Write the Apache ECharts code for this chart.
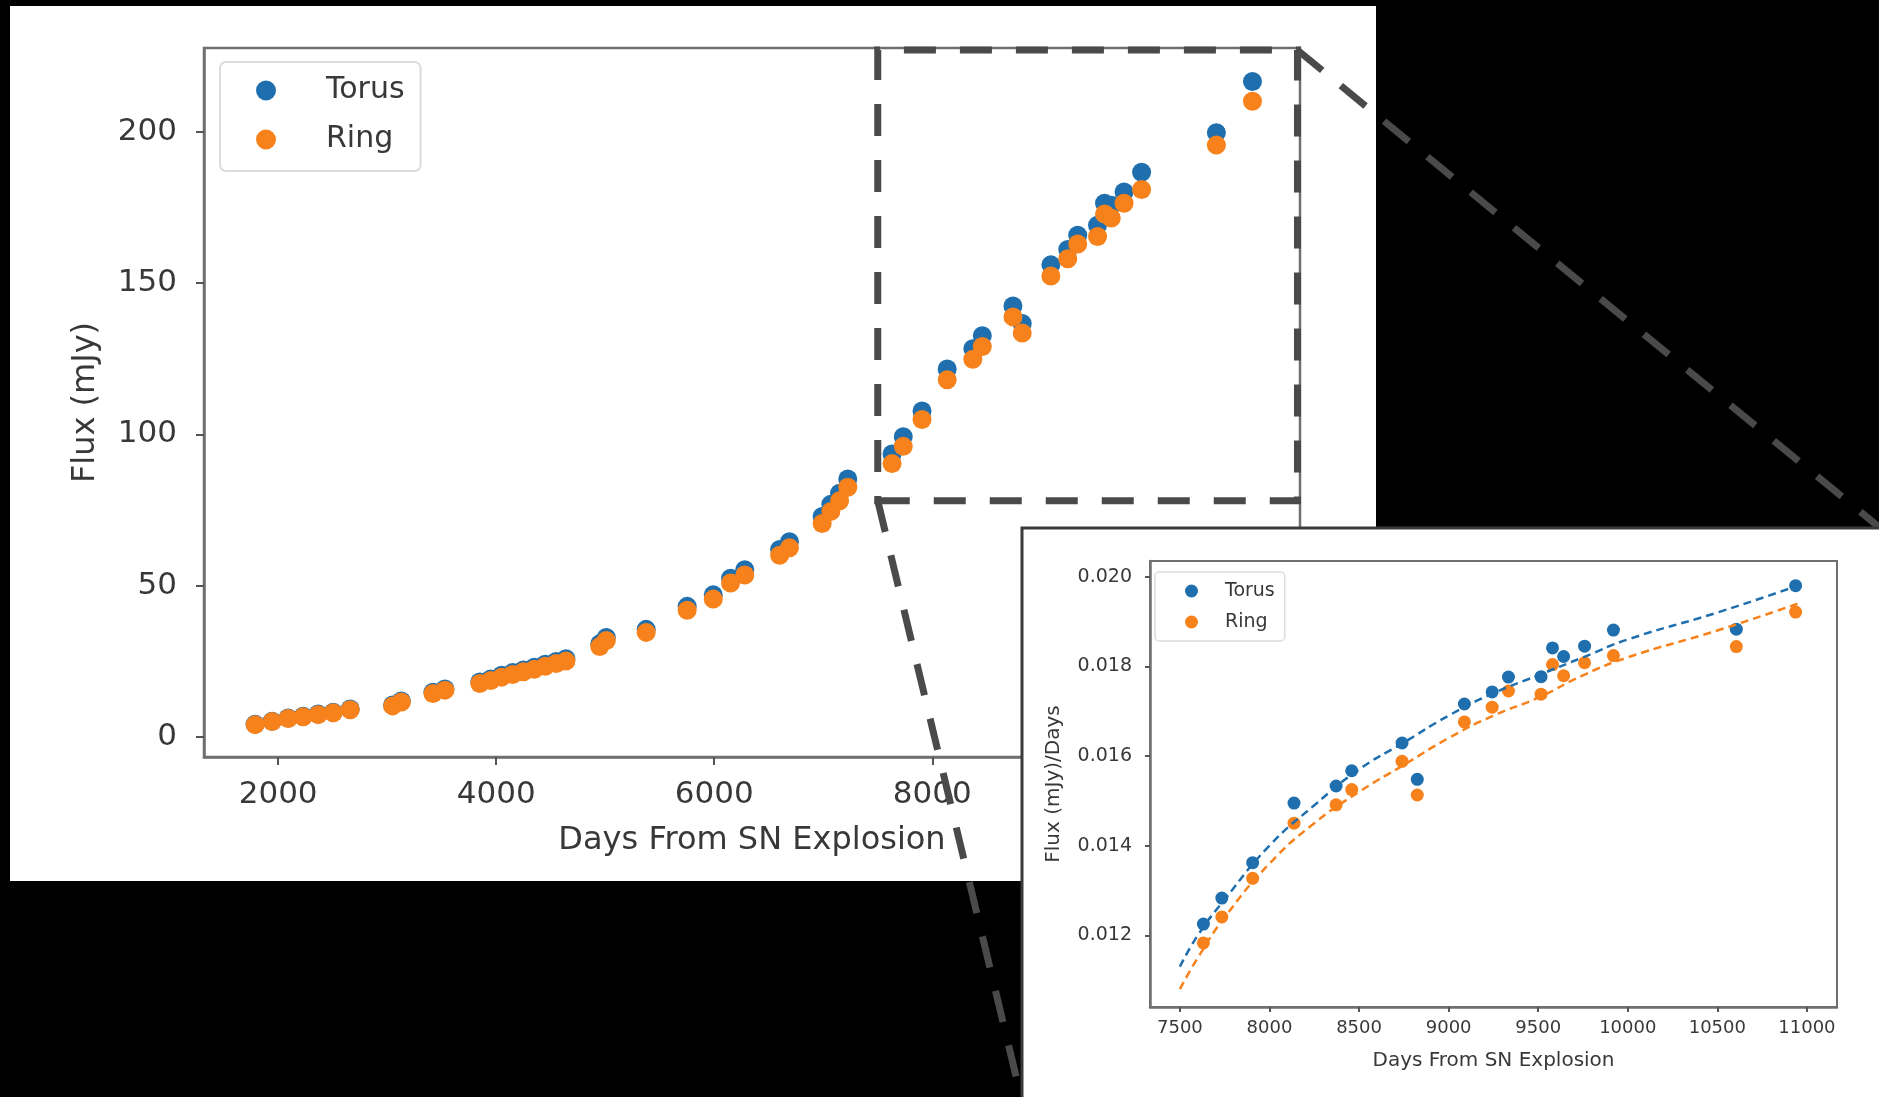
<!DOCTYPE html>
<html>
<head>
<meta charset="utf-8">
<title>Flux vs Days From SN Explosion</title>
<script src="https://cdn.jsdelivr.net/npm/echarts/dist/echarts.min.js"></script>
<style>
    html, body { margin: 0; padding: 0; background: #000; }
    #chart { width: 1879px; height: 1097px; }
</style>
</head>
<body>
<div id="chart"></div>
<script>
// main panel: flux against days
let days = [1789, 1945, 2092, 2229, 2367, 2505, 2661, 3050, 3130, 3420, 3530,
    3850, 3950, 4050, 4150, 4250, 4350, 4450, 4550, 4640, 4950, 5010, 5376,
    5752, 5991, 6150, 6280, 6600, 6690, 6990, 7070, 7150, 7225,
    7631, 7734, 7906, 8137, 8372, 8459, 8740, 8825, 9088, 9243, 9334, 9516,
    9580, 9642, 9759, 9920, 10606, 10937];
let torusFlux = [4.1, 5.1, 6.2, 6.8, 7.5, 8.1, 9.2, 10.5, 11.8, 14.7, 15.8,
    18.1, 19.1, 20.3, 21.2, 22.1, 23.0, 24.0, 24.9, 25.8, 30.7, 32.8, 35.5,
    43.1, 46.9, 52.4, 55.2, 61.9, 64.5, 72.8, 76.9, 80.5, 85.2,
    93.5, 99.2, 107.7, 121.6, 128.3, 132.6, 142.4, 136.6, 156.0, 161.1, 165.8, 169.1,
    176.4, 175.7, 180.1, 186.6, 199.7, 216.6];
let ringFlux = [4.0, 5.0, 6.0, 6.6, 7.3, 7.9, 8.9, 10.2, 11.5, 14.3, 15.4,
    17.6, 18.6, 19.7, 20.6, 21.5, 22.3, 23.3, 24.2, 25.0, 29.8, 31.8, 34.5,
    41.8, 45.5, 50.8, 53.5, 60.0, 62.5, 70.5, 74.5, 78.0, 82.5,
    90.3, 96.0, 104.9, 118.0, 124.8, 129.0, 138.8, 133.5, 152.3, 158.0, 162.9, 165.4,
    172.8, 171.5, 176.4, 180.9, 195.6, 210.1];
let mainXTicks = [2000, 4000, 6000, 8000, 10000];
let mainYTicks = [0, 50, 100, 150, 200];

// region that the inset zooms into
let zoomBoxX = [7500, 11350];
let zoomBoxY = [78, 227];

// inset: flux per day, with fitted curves
let insetDays = [7631, 7734, 7906, 8137, 8372, 8459, 8740, 8825, 9088, 9243,
    9334, 9516, 9580, 9642, 9759, 9920, 10606, 10937];
let torusRate = [0.01225, 0.01283, 0.01362, 0.01495, 0.01533, 0.01567, 0.01629,
    0.01548, 0.01716, 0.01743, 0.01776, 0.01777, 0.01841, 0.01822, 0.01845,
    0.01881, 0.01883, 0.01980];
let ringRate = [0.01183, 0.01241, 0.01327, 0.01450, 0.01491, 0.01525, 0.01588,
    0.01513, 0.01676, 0.01709, 0.01745, 0.01738, 0.01804, 0.01779, 0.01808,
    0.01824, 0.01844, 0.01921];
let fitDays = [7500, 7600, 7750, 8000, 8250, 8500, 8750, 9000, 9250, 9500,
    9750, 10000, 10500, 10950];
let torusFit = [0.0113, 0.0120, 0.0128, 0.0140, 0.0149, 0.0157, 0.0163, 0.0169,
    0.0174, 0.0178, 0.0182, 0.0186, 0.0192, 0.0198];
let ringFit = [0.0108, 0.0115, 0.0124, 0.0136, 0.0145, 0.0152, 0.0158, 0.0164,
    0.0169, 0.0173, 0.0178, 0.0182, 0.0188, 0.0194];
let insetXTicks = [7500, 8000, 8500, 9000, 9500, 10000, 10500, 11000];
let insetYTicks = [0.012, 0.014, 0.016, 0.018, 0.020];

let pairs = (xs, ys) => xs.map((x, i) => [x, ys[i]]);

let font = 'DejaVu Sans';
let ink = '#383838';
let spine = '#6f6f6f';
let blue = '#1f6fae';
let orange = '#f7811a';
let dashGrey = '#4a4a4a';

let axisBase = (size, tickLen, zlevel) => ({
    type: 'value',
    zlevel: zlevel,
    splitLine: { show: false },
    axisLine: { show: true, onZero: false, lineStyle: { color: spine, width: 2.5 } },
    axisTick: { show: true, length: tickLen, lineStyle: { color: '#555', width: 2 } },
    axisLabel: { color: ink, fontFamily: font, fontSize: size, formatter: v => String(v) },
    nameTextStyle: { color: ink, fontFamily: font, fontSize: size + 1 }
});

let option = {
    backgroundColor: '#000',
    animation: false,
    textStyle: { fontFamily: font },
    graphic: {
        elements: [
            {
                type: 'rect', id: 'mainPanel', zlevel: 0, z: -100, silent: true,
                shape: { x: 10, y: 6, width: 1366, height: 875 },
                style: { fill: '#fff' }
            },
            {
                type: 'rect', id: 'insetPanel', zlevel: 1, z: -100, silent: true,
                shape: { x: 1022, y: 528, width: 870, height: 580 },
                style: { fill: '#fff', stroke: '#3a3a3a', lineWidth: 3 }
            }
        ]
    },
    legend: [
        {
            zlevel: 0,
            left: 220, top: 62,
            orient: 'vertical',
            data: ['Torus', 'Ring'],
            icon: 'circle',
            itemWidth: 20, itemHeight: 20, itemGap: 18,
            padding: [13, 16, 16, 36],
            backgroundColor: 'rgba(255,255,255,0.8)',
            borderColor: '#dcdcdc', borderWidth: 2, borderRadius: 6,
            textStyle: { color: ink, fontFamily: font, fontSize: 30, lineHeight: 31, padding: [0, 0, 0, 45] }
        },
        {
            zlevel: 1,
            left: 1155, top: 572,
            orient: 'vertical',
            data: ['Torus', 'Ring'],
            icon: 'circle',
            itemWidth: 13, itemHeight: 13, itemGap: 11,
            padding: [9, 10, 9, 30],
            backgroundColor: 'rgba(255,255,255,0.8)',
            borderColor: '#dcdcdc', borderWidth: 1.5, borderRadius: 4,
            textStyle: { color: ink, fontFamily: font, fontSize: 19, lineHeight: 20, padding: [0, 0, 0, 22] }
        }
    ],
    grid: [
        {
            left: 204, top: 48, width: 1096, height: 709,
            show: true, borderColor: spine, borderWidth: 2.5, backgroundColor: 'transparent', zlevel: 0
        },
        {
            left: 1150, top: 561, width: 687, height: 446,
            show: true, borderColor: spine, borderWidth: 2, backgroundColor: 'transparent', zlevel: 1
        }
    ],
    xAxis: [
        {
            ...axisBase(31, 8, 0),
            gridIndex: 0,
            min: 1320, max: 11373,
            name: 'Days From SN Explosion',
            nameLocation: 'middle', nameGap: 68,
            axisTick: { ...axisBase(31, 8, 0).axisTick, customValues: mainXTicks },
            axisLabel: { ...axisBase(31, 8, 0).axisLabel, margin: 22, customValues: mainXTicks }
        },
        {
            ...axisBase(18, 5, 1),
            gridIndex: 1,
            min: 7333, max: 11168,
            name: 'Days From SN Explosion',
            nameLocation: 'middle', nameGap: 44,
            nameTextStyle: { color: ink, fontFamily: font, fontSize: 20 },
            axisTick: { ...axisBase(18, 5, 1).axisTick, customValues: insetXTicks },
            axisLabel: { ...axisBase(18, 5, 1).axisLabel, margin: 12, customValues: insetXTicks }
        }
    ],
    yAxis: [
        {
            ...axisBase(31, 8, 0),
            gridIndex: 0,
            min: -6.7, max: 227.7,
            name: 'Flux (mJy)',
            nameLocation: 'middle', nameGap: 102,
            axisTick: { ...axisBase(31, 8, 0).axisTick, customValues: mainYTicks },
            axisLabel: { ...axisBase(31, 8, 0).axisLabel, margin: 27, customValues: mainYTicks }
        },
        {
            ...axisBase(19, 5, 1),
            gridIndex: 1,
            min: 0.0104, max: 0.02035,
            name: 'Flux (mJy)/Days',
            nameLocation: 'middle', nameGap: 86,
            nameTextStyle: { color: ink, fontFamily: font, fontSize: 20 },
            axisTick: { ...axisBase(19, 5, 1).axisTick, customValues: insetYTicks },
            axisLabel: {
                ...axisBase(19, 5, 1).axisLabel, margin: 18, customValues: insetYTicks,
                formatter: v => v.toFixed(3)
            }
        }
    ],
    series: [
        {
            name: 'Torus', type: 'scatter', xAxisIndex: 0, yAxisIndex: 0, zlevel: 0,
            symbolSize: 19, itemStyle: { color: blue, opacity: 1 },
            data: pairs(days, torusFlux)
        },
        {
            name: 'Ring', type: 'scatter', xAxisIndex: 0, yAxisIndex: 0, zlevel: 0,
            symbolSize: 19, itemStyle: { color: orange, opacity: 1 },
            data: pairs(days, ringFlux),
            markArea: {
                silent: true,
                itemStyle: {
                    color: 'rgba(0,0,0,0)',
                    borderColor: dashGrey, borderWidth: 7, borderType: [32, 24]
                },
                data: [[
                    { coord: [zoomBoxX[0], zoomBoxY[0]] },
                    { coord: [zoomBoxX[1], zoomBoxY[1]] }
                ]]
            }
        },
        {
            name: 'Torus', type: 'scatter', xAxisIndex: 1, yAxisIndex: 1, zlevel: 1,
            symbolSize: 13, itemStyle: { color: blue, opacity: 1 },
            data: pairs(insetDays, torusRate)
        },
        {
            name: 'Ring', type: 'scatter', xAxisIndex: 1, yAxisIndex: 1, zlevel: 1,
            symbolSize: 13, itemStyle: { color: orange, opacity: 1 },
            data: pairs(insetDays, ringRate)
        },
        {
            name: 'Torus fit', type: 'line', xAxisIndex: 1, yAxisIndex: 1, zlevel: 1, z: 5,
            showSymbol: false, smooth: true,
            lineStyle: { color: blue, width: 2.5, type: [8, 5] },
            data: pairs(fitDays, torusFit)
        },
        {
            name: 'Ring fit', type: 'line', xAxisIndex: 1, yAxisIndex: 1, zlevel: 1, z: 5,
            showSymbol: false, smooth: true,
            lineStyle: { color: orange, width: 2.5, type: [8, 5] },
            data: pairs(fitDays, ringFit)
        }
    ]
};

let chart = echarts.init(document.getElementById('chart'));
chart.setOption(option);

// connector lines from the zoom box corners to the inset corners
let boxTopRight = chart.convertToPixel({ gridIndex: 0 }, [zoomBoxX[1], zoomBoxY[1]]);
let boxBottomLeft = chart.convertToPixel({ gridIndex: 0 }, [zoomBoxX[0], zoomBoxY[0]]);
let connector = (id, from, to) => ({
    type: 'line', id: id, zlevel: 0, z: 50, silent: true,
    shape: { x1: from[0], y1: from[1], x2: to[0], y2: to[1] },
    style: { stroke: dashGrey, lineWidth: 7, lineDash: [32, 24] }
});
chart.setOption({
    graphic: {
        elements: [
            connector('linkTop', boxTopRight, [1879, 527]),
            connector('linkBottom', boxBottomLeft, [1021, 1097])
        ]
    }
});
</script>
</body>
</html>
